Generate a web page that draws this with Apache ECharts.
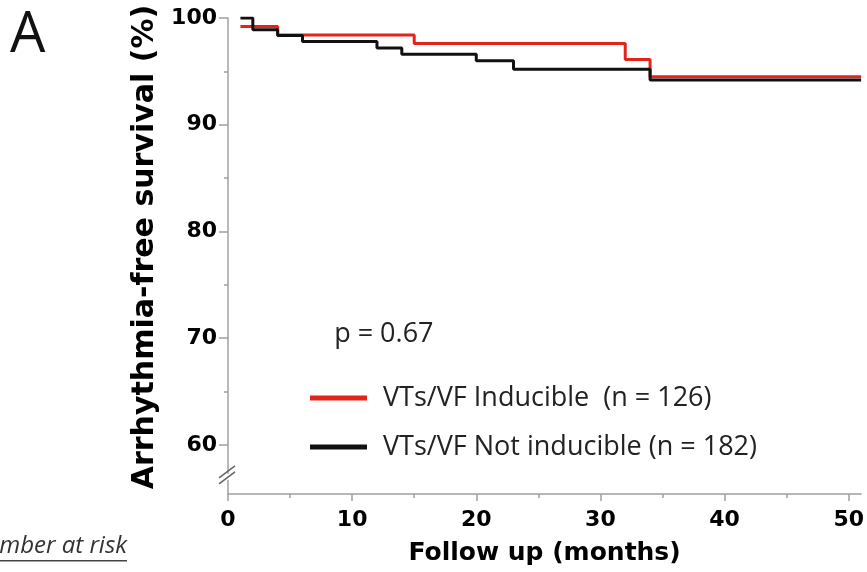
<!DOCTYPE html>
<html>
<head>
<meta charset="utf-8">
<script src="https://cdn.jsdelivr.net/npm/echarts@6/dist/echarts.min.js"></script>
<style>
html,body{margin:0;padding:0;background:#fff;}
#chart{width:867px;height:572px;}
</style>
</head>
<body>
<div id="chart"></div>
<script>
// ---- data ----
const inducibleName = 'VTs/VF Inducible  (n = 126)';
const notInducibleName = 'VTs/VF Not inducible (n = 182)';
const inducibleMonths = [1, 4, 15, 32, 34, 51];
const inducibleSurvival = [99.2, 98.4, 97.6, 96.1, 94.5, 94.5];
const notInducibleMonths = [1, 2, 4, 6, 12, 14, 20, 23, 34, 51];
const notInducibleSurvival = [100, 98.9, 98.35, 97.8, 97.2, 96.6, 96.0, 95.2, 94.2, 94.2];
const xMajorTicks = [0, 10, 20, 30, 40, 50];
const xMinorTicks = [5, 15, 25, 35, 45];
const yMajorTicks = [60, 70, 80, 90, 100];
const yMinorTicks = [65, 75, 85, 95];
const pValueText = 'p = 0.67';

const Y_MIN = 55.4, Y_MAX = 100, X_MIN = 0, X_MAX = 51;

function pairs(xs, ys) { return xs.map((x, i) => [x, ys[i]]); }

const chart = echarts.init(document.getElementById('chart'), null, {renderer: 'canvas'});

const axisLineStyle = {color: '#a0a0a0', width: 1.5};
const boldFont = '"DejaVu Sans", "Liberation Sans", Arial, sans-serif';
const labelFont = {color: '#000', fontFamily: boldFont, fontWeight: 'bold', fontSize: 22};

const option = {
  animation: false,
  backgroundColor: '#fff',
  grid: {left: 228, right: 0, top: 18, bottom: 78, containLabel: false},
  xAxis: [{
    type: 'value', min: X_MIN, max: X_MAX,
    name: 'Follow up (months)', nameLocation: 'middle', nameGap: 47,
    nameTextStyle: {color: '#000', fontFamily: boldFont, fontWeight: 'bold', fontSize: 25},
    axisLine: {show: true, lineStyle: axisLineStyle},
    axisTick: {show: true, length: 7, customValues: xMajorTicks, lineStyle: axisLineStyle},
    axisLabel: Object.assign({customValues: xMajorTicks, margin: 15}, labelFont),
    splitLine: {show: false}
  }, {
    type: 'value', min: X_MIN, max: X_MAX, position: 'bottom',
    axisLine: {show: false},
    axisTick: {show: true, length: 4, customValues: xMinorTicks, lineStyle: axisLineStyle},
    axisLabel: {show: false},
    splitLine: {show: false}
  }],
  yAxis: [{
    type: 'value', min: Y_MIN, max: Y_MAX,
    name: 'Arrhythmia-free survival (%)', nameLocation: 'middle', nameGap: 60, nameRotate: 90,
    nameTextStyle: {color: '#000', fontFamily: boldFont, fontWeight: 'bold', fontSize: 30, padding: [0, 0, 0, 18]},
    axisLine: {show: true, lineStyle: axisLineStyle},
    axisTick: {show: true, length: 9, customValues: yMajorTicks, lineStyle: axisLineStyle},
    axisLabel: Object.assign({customValues: yMajorTicks, margin: 11}, labelFont),
    splitLine: {show: false}
  }, {
    type: 'value', min: Y_MIN, max: Y_MAX, position: 'left',
    axisLine: {show: false},
    axisTick: {show: true, length: 4, customValues: yMinorTicks, lineStyle: axisLineStyle},
    axisLabel: {show: false},
    splitLine: {show: false}
  }],
  legend: {
    orient: 'vertical', left: 305, top: 378,
    itemWidth: 57, itemHeight: 5, itemGap: 19,
    icon: 'rect',
    data: [inducibleName, notInducibleName],
    textStyle: {color: '#222', fontFamily: '"Open Sans", sans-serif', fontSize: 27, lineHeight: 30, padding: [0, 0, 0, 11]}
  },
  series: [{
    name: inducibleName, type: 'line', step: 'end', symbol: 'none',
    color: '#e3231c',
    lineStyle: {width: 3, color: '#e3231c'},
    data: pairs(inducibleMonths, inducibleSurvival), z: 2
  }, {
    name: notInducibleName, type: 'line', step: 'end', symbol: 'none',
    color: '#111',
    lineStyle: {width: 3, color: '#111'},
    data: pairs(notInducibleMonths, notInducibleSurvival), z: 3
  }]
};
chart.setOption(option);

// annotations positioned through the axes
const axX = chart.convertToPixel({xAxisIndex: 0}, 0);
const yBreak = chart.convertToPixel({yAxisIndex: 0}, 57.0);
const yP = chart.convertToPixel({yAxisIndex: 0}, 71.6);
const xP = chart.convertToPixel({xAxisIndex: 0}, 8.55);
chart.setOption({
  graphic: [
    {type: 'rect', shape: {x: axX - 4, y: yBreak - 3, width: 8, height: 6}, style: {fill: '#fff'}, z: 10},
    {type: 'line', shape: {x1: axX - 9, y1: yBreak + 1, x2: axX + 7, y2: yBreak - 11}, style: {stroke: '#666', lineWidth: 1.5}, z: 11},
    {type: 'line', shape: {x1: axX - 9, y1: yBreak + 7, x2: axX + 7, y2: yBreak - 5}, style: {stroke: '#666', lineWidth: 1.5}, z: 11},
    {type: 'text', left: xP, top: yP, style: {text: pValueText, fill: '#222', font: '27px "Open Sans", sans-serif'}, z: 10},
    {type: 'text', left: 10, top: 8, style: {text: 'A', fill: '#111', font: '56px "Open Sans", sans-serif'}, z: 10},
    {type: 'text', right: 867 - 127, top: 534, style: {text: 'Number at risk', fill: '#333', font: 'italic 24px "Open Sans", sans-serif'}, z: 10},
    {type: 'rect', shape: {x: 0, y: 560, width: 127, height: 1.5}, style: {fill: '#444'}, z: 10}
  ]
});
</script>
</body>
</html>
